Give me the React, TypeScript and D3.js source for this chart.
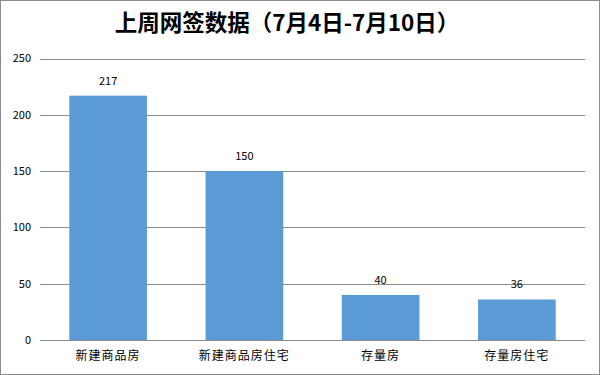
import React, { useEffect, useRef } from "react";
import * as d3 from "d3";

const categories = ["新建商品房", "新建商品房住宅", "存量房", "存量房住宅"];
const values = [217, 150, 40, 36];
const yTicks = [0, 50, 100, 150, 200, 250];
const title = "上周网签数据（7月4日-7月10日）";

const W = 600;
const H = 375;
const FONT = "'Noto Sans CJK SC', 'DejaVu Sans', sans-serif";

export default function App() {
  const ref = useRef<SVGSVGElement>(null);

  useEffect(() => {
    const svg = d3.select(ref.current);
    svg.selectAll("*").remove();

    const left = 40, right = 585, top = 58.5, bottom = 340;

    // outer border
    svg.append("rect")
      .attr("x", 0.5).attr("y", 0.5)
      .attr("width", W - 1).attr("height", H - 1)
      .attr("fill", "#fff")
      .attr("stroke", "#8c8c8c");

    svg.append("text")
      .attr("x", 287).attr("y", 31)
      .attr("text-anchor", "middle")
      .style("font-family", FONT)
      .style("font-size", "22.5px")
      .style("font-weight", "bold")
      .text(title);

    const x = d3.scaleBand<string>()
      .domain(categories)
      .range([left, right])
      .paddingInner(0.43)
      .paddingOuter(0.215);

    const y = d3.scaleLinear().domain([0, 250]).range([bottom, top]);

    // gridlines
    svg.selectAll(".grid")
      .data(yTicks)
      .join("line")
      .attr("class", "grid")
      .attr("x1", left).attr("x2", right)
      .attr("y1", d => Math.round(y(d)) + 0.5)
      .attr("y2", d => Math.round(y(d)) + 0.5)
      .attr("stroke", "#8c8c8c")
      .attr("stroke-width", 1);

    svg.selectAll(".ylab")
      .data(yTicks)
      .join("text")
      .attr("class", "ylab")
      .attr("x", 31)
      .attr("y", d => y(d))
      .attr("dy", "0.35em")
      .attr("text-anchor", "end")
      .style("font-family", FONT)
      .style("font-size", "11px")
      .text(d => d);

    svg.selectAll(".bar")
      .data(values)
      .join("rect")
      .attr("class", "bar")
      .attr("x", (d, i) => x(categories[i])!)
      .attr("y", d => y(d))
      .attr("width", x.bandwidth())
      .attr("height", d => bottom - y(d))
      .attr("fill", "#5b9bd5");

    svg.selectAll(".val")
      .data(values)
      .join("text")
      .attr("class", "val")
      .attr("x", (d, i) => x(categories[i])! + x.bandwidth() / 2)
      .attr("y", d => y(d) - 15)
      .attr("dy", "0.35em")
      .attr("text-anchor", "middle")
      .style("font-family", FONT)
      .style("font-size", "11px")
      .text(d => d);

    svg.selectAll(".xlab")
      .data(categories)
      .join("text")
      .attr("class", "xlab")
      .attr("x", d => x(d)! + x.bandwidth() / 2)
      .attr("y", 356)
      .attr("dy", "0.35em")
      .attr("text-anchor", "middle")
      .style("font-family", FONT)
      .style("font-size", "12px")
      .style("letter-spacing", "1px")
      .text(d => d);
  }, []);

  return (
    <div style={{ position: "fixed", left: 0, top: 0 }}>
      <svg ref={ref} width={W} height={H} style={{ display: "block" }} />
    </div>
  );
}
